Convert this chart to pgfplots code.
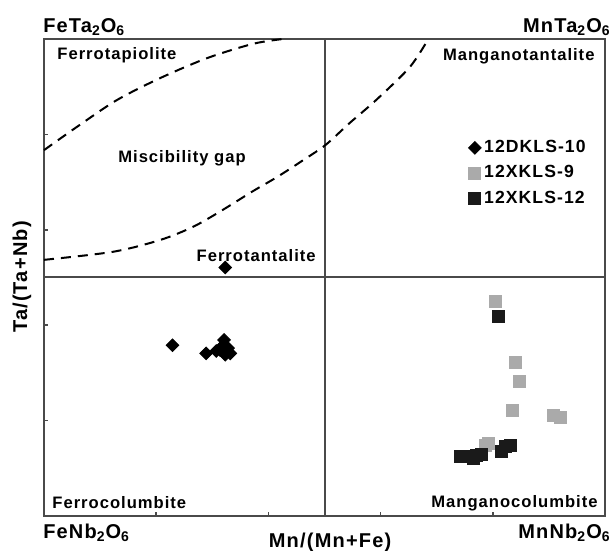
\documentclass[border=0pt]{standalone}
\usepackage{pgfplots}
\pgfplotsset{compat=1.18}
\usepackage{fontspec}
\setmainfont[LetterSpace=6]{Liberation Sans}
\definecolor{framegray}{HTML}{4A4A4A}
\definecolor{sqgray}{HTML}{AAAAAA}
\definecolor{sqblack}{HTML}{1A1A1A}
\tikzset{
  fieldlbl/.style={inner sep=0pt, font=\bfseries\fontsize{8.3}{10}\selectfont},
  endmember/.style={inner sep=0pt, font=\bfseries\fontsize{10}{12}\selectfont},
}
\begin{document}
\begin{tikzpicture}
\path[use as bounding box] (-22pt,-17.5pt) rectangle (283.5pt,258pt);
\begin{axis}[
  at={(0pt,0pt)}, anchor=south west,
  width=280.5pt, height=238.5pt, scale only axis,
  xmin=0, xmax=1, ymin=0, ymax=1,
  axis line style={draw=framegray, line width=1pt},
  xtick={0.2,0.4,0.6,0.8}, ytick={0.2,0.4,0.6,0.8},
  xticklabels={}, yticklabels={},
  tick pos=left, tick align=inside,
  major tick length=2.2pt,
  every tick/.style={framegray, line width=0.8pt},
  clip=false,
  legend style={at={(axis cs:0.756,0.795)}, anchor=north west, draw=none, fill=none,
    font=\bfseries\fontsize{8.8}{10}\selectfont, inner sep=0pt, row sep=2pt,
    nodes={inner sep=1.5pt}},
  legend cell align=left,
  legend image code/.code={\draw[#1] plot coordinates {(0cm,0cm)};},
]
% quadrant dividers
\draw[framegray, line width=1pt] (axis cs:0.5,0) -- (axis cs:0.5,1);
\draw[framegray, line width=1pt] (axis cs:0,0.5) -- (axis cs:1,0.5);

% miscibility gap boundaries
\addplot[black, line width=1pt, dash pattern=on 5pt off 3.5pt, smooth, forget plot]
  coordinates {(0,0.767) (0.059,0.816) (0.130,0.872) (0.207,0.918) (0.291,0.960) (0.373,0.990) (0.426,1.0)};
\addplot[black, line width=1pt, dash pattern=on 5pt off 3.5pt, smooth, forget plot]
  coordinates {(0,0.537) (0.1235,0.554) (0.208,0.579) (0.267,0.607) (0.319,0.642)
    (0.371,0.680) (0.416,0.711) (0.462,0.746) (0.502,0.778) (0.545,0.824)
    (0.592,0.872) (0.652,0.941) (0.684,0.998)};

% 12DKLS-10
\addplot[only marks, mark=square*, mark size=2.25pt, black,
  mark options={rotate=45, fill=black, draw=black}]
  coordinates {(0.323,0.521) (0.229,0.358) (0.289,0.341) (0.321,0.369) (0.317,0.355)
    (0.332,0.341) (0.323,0.338) (0.307,0.346) (0.314,0.348) (0.328,0.352)};
\addlegendentry{12DKLS-10}

% 12XKLS-9
\addplot[only marks, mark=square*, mark size=3pt,
  mark options={fill=sqgray, draw=sqgray}]
  coordinates {(0.805,0.449) (0.841,0.323) (0.847,0.282) (0.835,0.222) (0.908,0.210)
    (0.921,0.206) (0.792,0.152) (0.786,0.149)};
\addlegendentry{12XKLS-9}

% 12XKLS-12
\addplot[only marks, mark=square*, mark size=3pt,
  mark options={fill=sqblack, draw=sqblack}]
  coordinates {(0.810,0.418) (0.831,0.149) (0.816,0.135) (0.742,0.124) (0.756,0.124)
    (0.771,0.126) (0.780,0.130) (0.765,0.121) (0.822,0.145)};
\addlegendentry{12XKLS-12}

% end members
\node[endmember, anchor=west] at (axis cs:-0.002,1.026) {FeTa\textsubscript{2}O\textsubscript{6}};
\node[endmember, anchor=east] at (axis cs:1.0107,1.026) {MnTa\textsubscript{2}O\textsubscript{6}};
\node[endmember, anchor=west] at (axis cs:-0.002,-0.0345) {FeNb\textsubscript{2}O\textsubscript{6}};
\node[endmember, anchor=east] at (axis cs:1.0107,-0.0345) {MnNb\textsubscript{2}O\textsubscript{6}};

% axis titles
\node[endmember] at (axis cs:0.51,-0.0555) {Mn/(Mn+Fe)};
\node[endmember, rotate=90] at (axis cs:-0.0392,0.501) {Ta/(Ta+Nb)};

% field names
\node[fieldlbl, anchor=west] at (axis cs:0.0232,0.966) {Ferrotapiolite};
\node[fieldlbl, anchor=east] at (axis cs:0.982,0.964) {Manganotantalite};
\node[fieldlbl] at (axis cs:0.246,0.750) {Miscibility gap};
\node[fieldlbl, anchor=east] at (axis cs:0.485,0.545) {Ferrotantalite};
\node[fieldlbl, anchor=west] at (axis cs:0.0143,0.0273) {Ferrocolumbite};
\node[fieldlbl, anchor=east] at (axis cs:0.9875,0.0273) {Manganocolumbite};
\end{axis}
\end{tikzpicture}
\end{document}
